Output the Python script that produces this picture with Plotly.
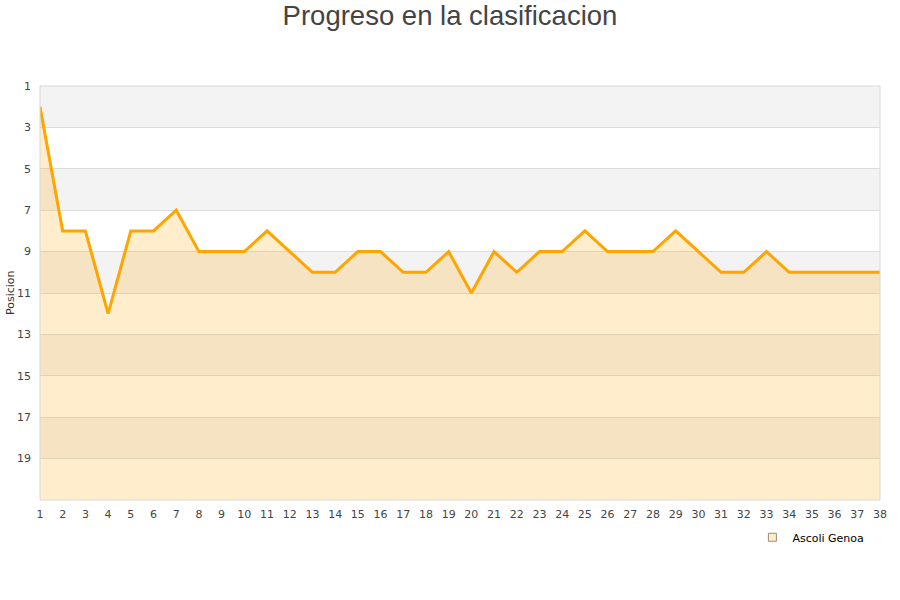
import plotly.graph_objects as go

jornadas = list(range(1, 39))
posiciones = [2, 8, 8, 12, 8, 8, 7, 9, 9, 9, 8, 9, 10, 10, 9, 9, 10, 10, 9, 11,
              9, 10, 9, 9, 8, 9, 9, 9, 8, 9, 10, 10, 9, 10, 10, 10, 10, 10]
equipo = "Ascoli Genoa"
fondo = 21
y_ticks = [1, 3, 5, 7, 9, 11, 13, 15, 17, 19]

fig = go.Figure()
# baseline for fill (bottom of reversed axis)
fig.add_trace(go.Scatter(x=jornadas, y=[fondo] * len(jornadas), mode="lines",
                         line=dict(width=0, color="rgba(0,0,0,0)"),
                         showlegend=False, hoverinfo="skip"))
fig.add_trace(go.Scatter(x=jornadas, y=posiciones, mode="lines", fill="tonexty",
                         fillcolor="rgba(255,165,0,0.2)",
                         line=dict(color="#ffa500", width=3),
                         showlegend=False, name=equipo))
# legend entry
fig.add_trace(go.Scatter(x=[None], y=[None], mode="markers", name=equipo,
                         marker=dict(symbol="square", size=8, color="#ffedcc",
                                     line=dict(color="#a08a70", width=1))))

shapes = []
for i, t in enumerate(y_ticks):
    if i % 2 == 0:
        shapes.append(dict(type="rect", xref="paper", yref="y", x0=0, x1=1,
                           y0=t, y1=t + 2, fillcolor="#f3f3f3", line_width=0,
                           layer="below"))
shapes.append(dict(type="rect", xref="paper", yref="paper", x0=0, x1=1, y0=0, y1=1,
                   line=dict(color="#d8d8d8", width=1), layer="above"))

fig.update_layout(
    width=900, height=600,
    margin=dict(l=40, r=20, t=86, b=100),
    paper_bgcolor="white", plot_bgcolor="white",
    title=dict(text="Progreso en la clasificacion", x=0.5, xanchor="center",
               y=0.975, yanchor="middle", yref="container",
               font=dict(family="Liberation Sans, Arial, sans-serif", size=27.5, color="#444")),
    xaxis=dict(range=[1, 38], tickmode="array", tickvals=jornadas, showgrid=False,
               zeroline=False, showline=False, ticks="", ticklabelstandoff=6,
               automargin=False,
               tickfont=dict(family="DejaVu Sans, sans-serif", size=11, color="#444")),
    yaxis=dict(range=[fondo, 1], tickmode="array", tickvals=y_ticks, showgrid=True,
               gridcolor="#dddddd", gridwidth=1, zeroline=False, showline=False, ticks="",
               ticklabelstandoff=8, automargin=False,
               tickfont=dict(family="DejaVu Sans, sans-serif", size=11, color="#444")),
    shapes=shapes,
    showlegend=True,
    legend=dict(x=0.86 - 10 / 840, xanchor="left", y=-0.055, yanchor="top",
                font=dict(family="DejaVu Sans, sans-serif", size=11, color="#000"),
                itemwidth=30, bgcolor="rgba(0,0,0,0)"),
    annotations=[dict(text="Posicion", textangle=-90, xref="paper", yref="paper",
                      x=-30 / 840, y=0.5, showarrow=False, xanchor="center", yanchor="middle",
                      font=dict(family="DejaVu Sans, sans-serif", size=11, color="#333"))],
)

fig.write_html("out.html", config={"displayModeBar": False},
               post_script="document.body.style.margin='0';")
